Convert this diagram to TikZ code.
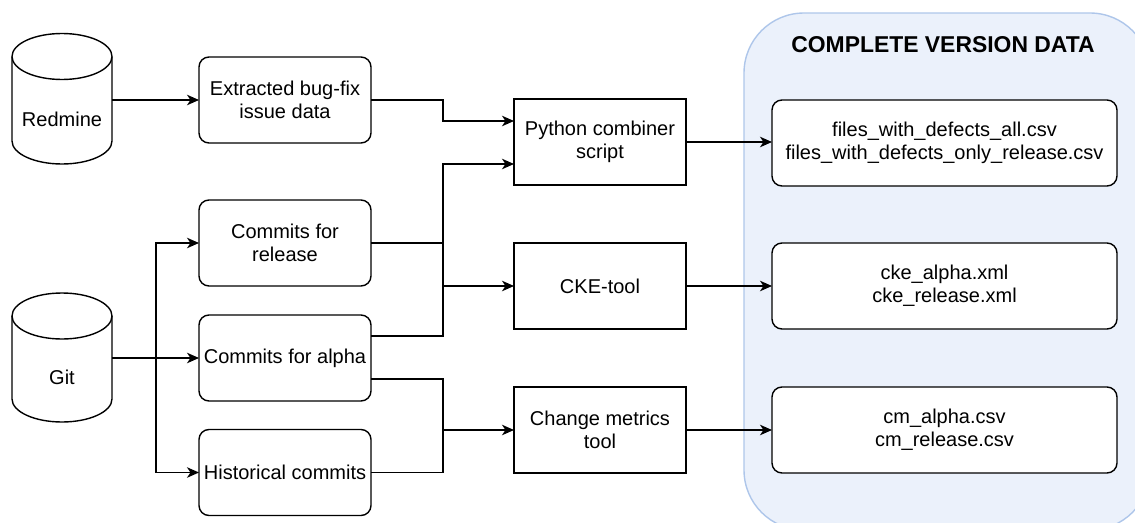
\documentclass[tikz,border=0pt]{standalone}
\usepackage{fontspec}
\setmainfont{Liberation Sans}
\usetikzlibrary{arrows.meta}
\definecolor{contfill}{HTML}{EBF1FB}
\definecolor{contdraw}{HTML}{AEC6EA}
\tikzset{
  ln/.style={line width=1.4pt, black},
  arr/.style={ln, -{Stealth[length=12pt,width=10.5pt,inset=3.5pt]}},
  txt/.style={font=\fontsize{20}{23}\selectfont, align=center, inner sep=0pt, outer sep=0pt},
  rbox/.style={txt, draw, line width=1.4pt, rounded corners=10pt, minimum width=172pt, minimum height=86pt, fill=white},
  sbox/.style={txt, draw, line width=1.4pt, minimum width=172pt, minimum height=86pt, fill=white},
  obox/.style={txt, draw, line width=1.4pt, rounded corners=10pt, minimum width=345pt, minimum height=86pt, fill=white},
  ghost/.style={inner sep=0pt, outer sep=0pt, minimum width=100pt, minimum height=129pt}
}
\begin{document}
\begin{tikzpicture}[x=1pt,y=-1pt]
\useasboundingbox (0,0) rectangle (1135,522);
\begin{scope}
\clip (0,0) rectangle (1135,522);
\draw[line width=1.4pt, draw=contdraw, fill=contfill, rounded corners=60pt] (744,13) rectangle (1150,530);
\end{scope}
\node[font=\fontsize{22.9}{26}\selectfont\bfseries, inner sep=0pt] (title) at (943,45) {COMPLETE VERSION DATA};

% cylinders
\node[ghost] (rdm) at (62,98.5) {};
\draw[ln] (12,56.5) -- (12,141) arc[start angle=180,end angle=0,x radius=50,y radius=23] -- (112,56.5) arc[start angle=0,end angle=-180,x radius=50,y radius=23] -- cycle;
\draw[ln] (12,56.5) arc[start angle=180,end angle=0,x radius=50,y radius=23];
\node[txt] (rdmlabel) at (62,119) {Redmine};

\node[ghost] (git) at (62,357.5) {};
\draw[ln] (12,316) -- (12,399) arc[start angle=180,end angle=0,x radius=50,y radius=23] -- (112,316) arc[start angle=0,end angle=-180,x radius=50,y radius=23] -- cycle;
\draw[ln] (12,316) arc[start angle=180,end angle=0,x radius=50,y radius=23];
\node[txt] (gitlabel) at (62,377) {Git};

% boxes
\node[rbox] (extracted) at (285,100) {Extracted bug-fix\\issue data};
\node[rbox] (release) at (285,243) {Commits for\\release};
\node[rbox] (alpha) at (285,358) {Commits for alpha};
\node[rbox] (historical) at (285,472.5) {Historical commits};

\node[sbox] (python) at (600,142) {Python combiner\\script};
\node[sbox] (cke) at (600,286) {CKE-tool};
\node[sbox] (cmt) at (600,430) {Change metrics\\tool};

\node[obox] (files) at (944.5,143) {files\_with\_defects\_all.csv\\files\_with\_defects\_only\_release.csv};
\node[obox] (ckeout) at (944.5,286) {cke\_alpha.xml\\cke\_release.xml};
\node[obox] (cmout) at (944.5,430) {cm\_alpha.csv\\cm\_release.csv};

% connectors
\coordinate (jx) at (443,0);
\coordinate (gx) at (156,0);
\draw[arr] (rdm.east |- extracted.west) -- (extracted.west);
\draw[arr] (extracted.east) -| (jx |- 0,121) -- (python.west |- 0,121);
\draw[ln] (release.east) -- (jx |- release.east);
\draw[arr] (alpha.east |- 0,336) -| (jx |- 0,164) -- (python.west |- 0,164);
\draw[arr] (jx |- cke.west) -- (cke.west);
\draw[ln] (alpha.east |- 0,379) -| (jx |- historical.east) -- (historical.east);
\draw[arr] (jx |- cmt.west) -- (cmt.west);

\draw[arr] (git.east |- alpha.west) -- (alpha.west);
\draw[arr] (gx |- alpha.west) |- (release.west);
\draw[arr] (gx |- alpha.west) |- (historical.west);

\draw[arr] (python.east) -- (files.west |- python.east);
\draw[arr] (cke.east) -- (ckeout.west);
\draw[arr] (cmt.east) -- (cmout.west);
\end{tikzpicture}
\end{document}
